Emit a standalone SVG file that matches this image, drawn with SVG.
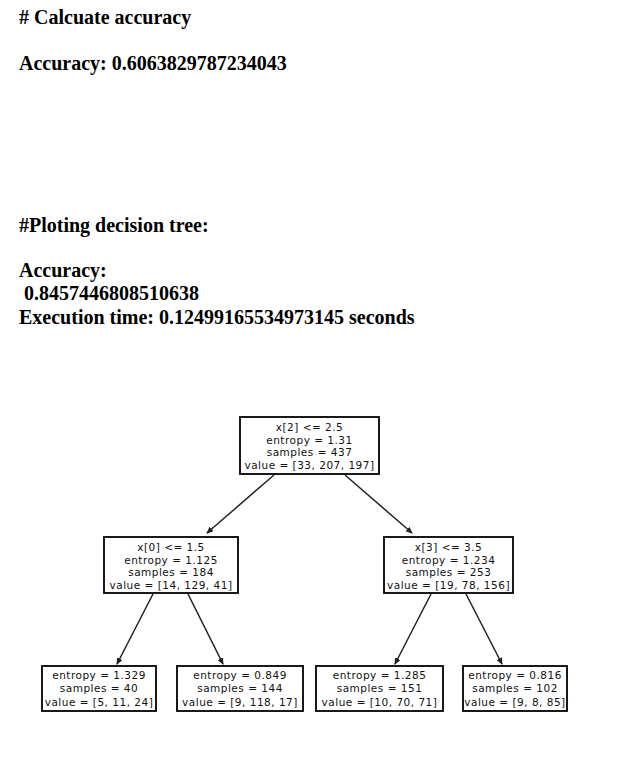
<svg xmlns="http://www.w3.org/2000/svg" width="626" height="773" viewBox="0 0 626 773">
<style>
.h{font-family:"Liberation Serif","Times New Roman",serif;font-weight:bold;font-size:20px;fill:#000}
.n rect{fill:#fff;stroke:#000;stroke-width:1.8}
.n text{font-family:"DejaVu Sans",sans-serif;font-size:10.5px;letter-spacing:0.5px;fill:#111;text-anchor:middle}
.e line{stroke:#222;stroke-width:1.5;marker-end:url(#ah)}
</style>
<defs>
<marker id="ah" markerWidth="8" markerHeight="8" refX="6" refY="3" orient="auto" markerUnits="userSpaceOnUse">
<path d="M0,0 L7,3 L0,6 Z" fill="#222"/>
</marker>
</defs>
<rect width="626" height="773" fill="#fff"/>
<text class="h" x="19" y="24"># Calcuate accuracy</text>
<text class="h" x="19" y="70">Accuracy: 0.6063829787234043</text>
<text class="h" x="19" y="232">#Ploting decision tree:</text>
<text class="h" x="19" y="277">Accuracy:</text>
<text class="h" x="19" y="300" xml:space="preserve"> 0.8457446808510638</text>
<text class="h" x="19" y="324">Execution time: 0.12499165534973145 seconds</text>

<g id="edges" class="e">
<line x1="274" y1="475" x2="207" y2="533"/>
<line x1="345" y1="475" x2="412" y2="533"/>
<line x1="153" y1="594" x2="117" y2="664"/>
<line x1="188" y1="594" x2="223" y2="664"/>
<line x1="431" y1="594" x2="395" y2="664"/>
<line x1="466" y1="594" x2="502" y2="664"/>
</g>

<g id="root" class="n">
<rect x="240" y="417" width="139" height="57"/>
<text x="309.5" y="431">x[2] &lt;= 2.5</text>
<text x="309.5" y="443.5">entropy = 1.31</text>
<text x="309.5" y="456">samples = 437</text>
<text x="309.5" y="469">value = [33, 207, 197]</text>
</g>
<g id="n1" class="n">
<rect x="104" y="537" width="134" height="56"/>
<text x="171" y="551">x[0] &lt;= 1.5</text>
<text x="171" y="563.5">entropy = 1.125</text>
<text x="171" y="576">samples = 184</text>
<text x="171" y="589">value = [14, 129, 41]</text>
</g>
<g id="n4" class="n">
<rect x="384" y="537" width="129" height="56"/>
<text x="448.5" y="551">x[3] &lt;= 3.5</text>
<text x="448.5" y="563.5">entropy = 1.234</text>
<text x="448.5" y="576">samples = 253</text>
<text x="448.5" y="589">value = [19, 78, 156]</text>
</g>
<g id="n2" class="n">
<rect x="42" y="666" width="114" height="45"/>
<text x="99" y="679">entropy = 1.329</text>
<text x="99" y="692">samples = 40</text>
<text x="99" y="705.5">value = [5, 11, 24]</text>
</g>
<g id="n3" class="n">
<rect x="177" y="666" width="126" height="45"/>
<text x="240" y="679">entropy = 0.849</text>
<text x="240" y="692">samples = 144</text>
<text x="240" y="705.5">value = [9, 118, 17]</text>
</g>
<g id="n5" class="n">
<rect x="316" y="666" width="127" height="45"/>
<text x="379.5" y="679">entropy = 1.285</text>
<text x="379.5" y="692">samples = 151</text>
<text x="379.5" y="705.5">value = [10, 70, 71]</text>
</g>
<g id="n6" class="n">
<rect x="463" y="666" width="104" height="45"/>
<text x="515" y="679">entropy = 0.816</text>
<text x="515" y="692">samples = 102</text>
<text x="515" y="705.5">value = [9, 8, 85]</text>
</g>
</svg>
